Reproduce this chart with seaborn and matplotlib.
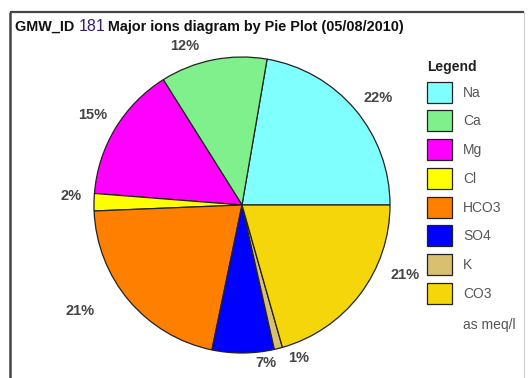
import matplotlib.pyplot as plt
import numpy as np
import seaborn as sns

ions = ["Na", "Ca", "Mg", "Cl", "HCO3", "SO4", "K", "CO3"]
meq_share = [22.4, 11.7, 14.9, 1.9, 21.2, 6.8, 0.9, 20.7]
pct_labels = ["22%", "12%", "15%", "2%", "21%", "7%", "1%", "21%"]
ion_colors = ["#80ffff", "#80f08c", "#ff00ff", "#ffff00", "#ff8000", "#0000ff", "#d8c070", "#f5d60a"]

# label placement tweaks (degrees, radius) to mimic the original layout
label_nudge = [-2, 8.5, 0, -2, -7, 8, 6, 14]
label_dist = [1.17, 1.14, 1.18, 1.16, 1.31, 1.08, 1.10, 1.20]

sns.set_theme(style="white")
plt.rcParams['font.family'] = ['Liberation Sans', 'DejaVu Sans']

W, H = 530, 378
fig = plt.figure(figsize=(W / 100, H / 100), dpi=100)
fig.patch.set_facecolor("white")

# background overlay for frame / title
bg = fig.add_axes([0, 0, 1, 1])
bg.set_xlim(0, W)
bg.set_ylim(H, 0)
bg.axis("off")
bg.plot([10, 10], [12, H + 5], color="#444444", lw=1.8, solid_capstyle="butt")
bg.plot([10, 524], [12, 12], color="#444444", lw=1.6, solid_capstyle="butt")
bg.plot([524, 524], [12, H + 5], color="#cccccc", lw=0.8)

t1 = bg.annotate("GMW_ID ", xy=(15, 31), xycoords="data", fontsize=10.4,
                 fontweight="bold", color="#111111", va="baseline", ha="left")
t2 = bg.annotate("181", xy=(1, 0), xycoords=t1, fontsize=11.5, color="#3a1a6a",
                 va="bottom", ha="left")
bg.annotate("\u2009Major ions diagram by Pie Plot (05/08/2010)", xy=(1, 0), xycoords=t2,
            fontsize=10.4, fontweight="bold", color="#111111", va="bottom", ha="left")

# pie
cx, cy, r = 242, 205, 148
ax = fig.add_axes([(cx - r) / W, (H - cy - r) / H, 2 * r / W, 2 * r / H])
palette = sns.color_palette(ion_colors)
wedges, _ = ax.pie(meq_share, colors=palette, startangle=0, counterclock=True,
                   wedgeprops=dict(edgecolor="#222222", linewidth=0.9))
ax.set_xlim(-1, 1)
ax.set_ylim(-1, 1)
ax.set_aspect("equal")
ax.axis("off")

for w, lab, dn, dr in zip(wedges, pct_labels, label_nudge, label_dist):
    ang = np.deg2rad((w.theta1 + w.theta2) / 2 + dn)
    ax.text(dr * np.cos(ang), dr * np.sin(ang), lab, ha="center", va="center",
            fontsize=10.5, fontweight="bold", color="#444444", clip_on=False)

leg = ax.legend(wedges, ions, title="Legend", loc="upper left",
                bbox_to_anchor=(427 / W, 1 - 60 / H), bbox_transform=fig.transFigure,
                frameon=False, fontsize=10, handlelength=1.8, handleheight=1.96,
                labelspacing=0.55, handletextpad=0.8, borderpad=0, borderaxespad=0,
                alignment="left")
leg.get_title().set_fontweight("bold")
leg.get_title().set_fontsize(10)
leg.get_title().set_color("#222222")
for txt in leg.get_texts():
    txt.set_color("#555555")

bg.text(463, 325, "as meq/l", fontsize=10, color="#555555", ha="left", va="center")

fig.savefig("out.png", dpi=100)
